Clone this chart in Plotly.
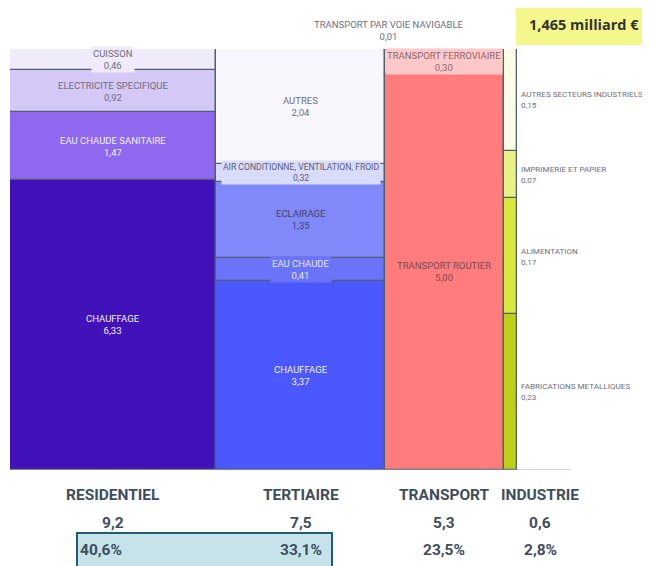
import plotly.graph_objects as go

# ---------------- data ----------------
sectors = ["RESIDENTIEL", "TERTIAIRE", "TRANSPORT", "INDUSTRIE"]
sector_totals = [9.2, 7.5, 5.3, 0.6]
sector_totals_txt = ["9,2", "7,5", "5,3", "0,6"]
sector_shares_txt = ["40,6%", "33,1%", "23,5%", "2,8%"]

# segments listed from bottom to top
res_labels = ["CHAUFFAGE", "EAU CHAUDE SANITAIRE", "ELECTRICITE SPECIFIQUE", "CUISSON"]
res_values = [6.33, 1.47, 0.92, 0.46]
ter_labels = ["CHAUFFAGE", "EAU CHAUDE", "ECLAIRAGE", "AIR CONDITIONNE, VENTILATION, FROID", "AUTRES"]
ter_values = [3.37, 0.41, 1.35, 0.32, 2.04]
tra_labels = ["TRANSPORT ROUTIER", "TRANSPORT FERROVIAIRE", "TRANSPORT PAR VOIE NAVIGABLE"]
tra_values = [5.00, 0.30, 0.01]
ind_labels = ["FABRICATIONS METALLIQUES", "ALIMENTATION", "IMPRIMERIE ET PAPIER", "AUTRES SECTEURS INDUSTRIELS"]
ind_values = [0.23, 0.17, 0.07, 0.15]
total_label = "1,465 milliard €"

# ---------------- styles ----------------
res_colors = ["#4112B9", "#8E68EE", "#D4C9F6", "#EFEBFA"]
res_text = ["#F4F0FF", "#F4F0FF", "#6E6E80", "#6E6E80"]
res_bg = [None, None, None, "#EFEBFA"]
ter_colors = ["#4A58FE", "#6B74F8", "#8188FA", "#D9DBFB", "#F8F7FE"]
ter_text = ["#EEF0FF", "#E2E6FF", "#3F4566", "#5A5E75", "#6E6E80"]
ter_bg = [None, "#6B74F8", None, "#D9DBFB", None]
ter_size = [9.5, 9.5, 9.5, 8.6, 9.5]
tra_colors = ["#FF7C7C", "#FFC8C8", "#FFC8C8"]
tra_text = ["#7A4A55", "#8A6A70", "#6E6E80"]
tra_bg = [None, "#FFC8C8", None]
ind_colors = ["#BDD017", "#D9E83F", "#E8F286", "#FAFDE6"]

FONT = "Roboto, Liberation Sans, sans-serif"
LINE = "#50606F"

OFF = 8  # page body margin
PAGE_W, PAGE_H = 650, 566
W, H = PAGE_W - OFF, PAGE_H - OFF
P_LEFT, P_TOP, P_BOTTOM = 10, 49, 470   # plot box in page pixels
ML = P_LEFT - OFF
MT = P_TOP - OFF
MB = H - (P_BOTTOM - OFF)
MR = 0
plot_w = W - ML - MR
plot_h = H - MT - MB
chart_px = 507.0
tot = sum(sector_totals)
xmax = tot * plot_w / chart_px


def px_x(p):
    return (p - P_LEFT) / plot_w


def px_y(p):
    return (P_BOTTOM - p) / plot_h


fig = go.Figure()
annotations = []

columns = [
    (res_labels, res_values, res_colors, res_text, res_bg),
    (ter_labels, ter_values, ter_colors, ter_text, ter_bg),
    (tra_labels, tra_values, tra_colors, tra_text, tra_bg),
    (ind_labels, ind_values, ind_colors, None, None),
]

left = 0.0
lefts = []
for ci, (labels, values, colors, tcols, bgs) in enumerate(columns):
    width = sector_totals[ci]
    lefts.append(left)
    center = left + width / 2
    s = sum(values)
    base = 0.0
    for si, (lab, v, col) in enumerate(zip(labels, values, colors)):
        frac = v / s
        fig.add_trace(go.Bar(
            x=[center], y=[frac], base=[base], width=[width],
            marker=dict(color=col, line=dict(color=LINE, width=1.3)),
            hoverinfo="skip", showlegend=False, cliponaxis=False,
        ))
        mid = base + frac / 2
        vtxt = f"{v:.2f}".replace(".", ",")
        if ci == 2 and si == 2:
            annotations.append(dict(
                x=left, y=1, xref="x", yref="y", xshift=4, yshift=19,
                text=f"{lab}<br>{vtxt}", showarrow=False,
                font=dict(family=FONT, size=9.5, color=tcols[si]),
                align="center", xanchor="center", yanchor="middle",
            ))
        elif ci == 3:
            annotations.append(dict(
                x=left + width, y=mid, xref="x", yref="y", xshift=2,
                text=f"{lab}<br>{vtxt}", showarrow=False, xanchor="left",
                yanchor="middle", align="left",
                font=dict(family=FONT, size=8.1, color="#6E6E80"),
            ))
        else:
            fs = ter_size[si] if ci == 1 else 9.5
            a = dict(
                x=center, y=mid, xref="x", yref="y",
                text=f"{lab}<br>{vtxt}", showarrow=False, align="center",
                xanchor="center", yanchor="middle",
                font=dict(family=FONT, size=fs, color=tcols[si]),
            )
            if bgs[si]:
                a["bgcolor"] = bgs[si]
                a["borderpad"] = 1
            annotations.append(a)
        base += frac
    left += width

# bottom labels
BFONT = dict(family=FONT, size=15.5, color="#3E4E5E", weight="bold")
share_pos = [(78, "left"), (324, "right"), (None, "center"), (None, "center")]
for ci, name in enumerate(sectors):
    cx = lefts[ci] + sector_totals[ci] / 2
    xs = 30 if ci == 3 else 0
    annotations.append(dict(x=cx, y=px_y(495), xref="x", yref="paper", xshift=xs,
                            text=name, showarrow=False, font=BFONT,
                            xanchor="center", yanchor="middle"))
    annotations.append(dict(x=cx, y=px_y(523), xref="x", yref="paper", xshift=xs,
                            text=sector_totals_txt[ci], showarrow=False, font=BFONT,
                            xanchor="center", yanchor="middle"))
    sp, anc = share_pos[ci]
    if sp is None:
        annotations.append(dict(x=cx, y=px_y(550), xref="x", yref="paper", xshift=xs,
                                text=sector_shares_txt[ci], showarrow=False, font=BFONT,
                                xanchor="center", yanchor="middle"))
    else:
        annotations.append(dict(x=px_x(sp), y=px_y(550), xref="paper", yref="paper",
                                text=sector_shares_txt[ci], showarrow=False, font=BFONT,
                                xanchor=anc, yanchor="middle"))

# total label
annotations.append(dict(
    x=px_x(584), y=px_y(24), xref="paper", yref="paper",
    text=f"<b>{total_label}</b>", showarrow=False, xanchor="center", yanchor="middle",
    font=dict(family="Open Sans, Liberation Sans, sans-serif", size=14.5, color="#333333"),
))

shapes = [
    dict(type="rect", xref="paper", yref="paper",
         x0=px_x(516), x1=px_x(652), y0=px_y(45), y1=px_y(4),
         fillcolor="#F4F78C", line=dict(width=0), layer="below"),
    dict(type="rect", xref="paper", yref="paper",
         x0=px_x(77), x1=px_x(332), y0=px_y(568), y1=px_y(533),
         fillcolor="#C6E3EA", line=dict(color="#1E5E70", width=2), layer="below"),
    dict(type="line", xref="x", yref="y", x0=0, x1=(570 - P_LEFT) / chart_px * tot,
         y0=0, y1=0, line=dict(color="#A0A8B0", width=1)),
]

fig.update_layout(
    width=W, height=H, barmode="overlay",
    margin=dict(l=ML, r=MR, t=MT, b=MB),
    plot_bgcolor="rgba(0,0,0,0)", paper_bgcolor="white",
    xaxis=dict(range=[0, xmax], visible=False, fixedrange=True),
    yaxis=dict(range=[0, 1], visible=False, fixedrange=True),
    annotations=annotations, shapes=shapes, bargap=0,
)

fig.write_html("out.html")
